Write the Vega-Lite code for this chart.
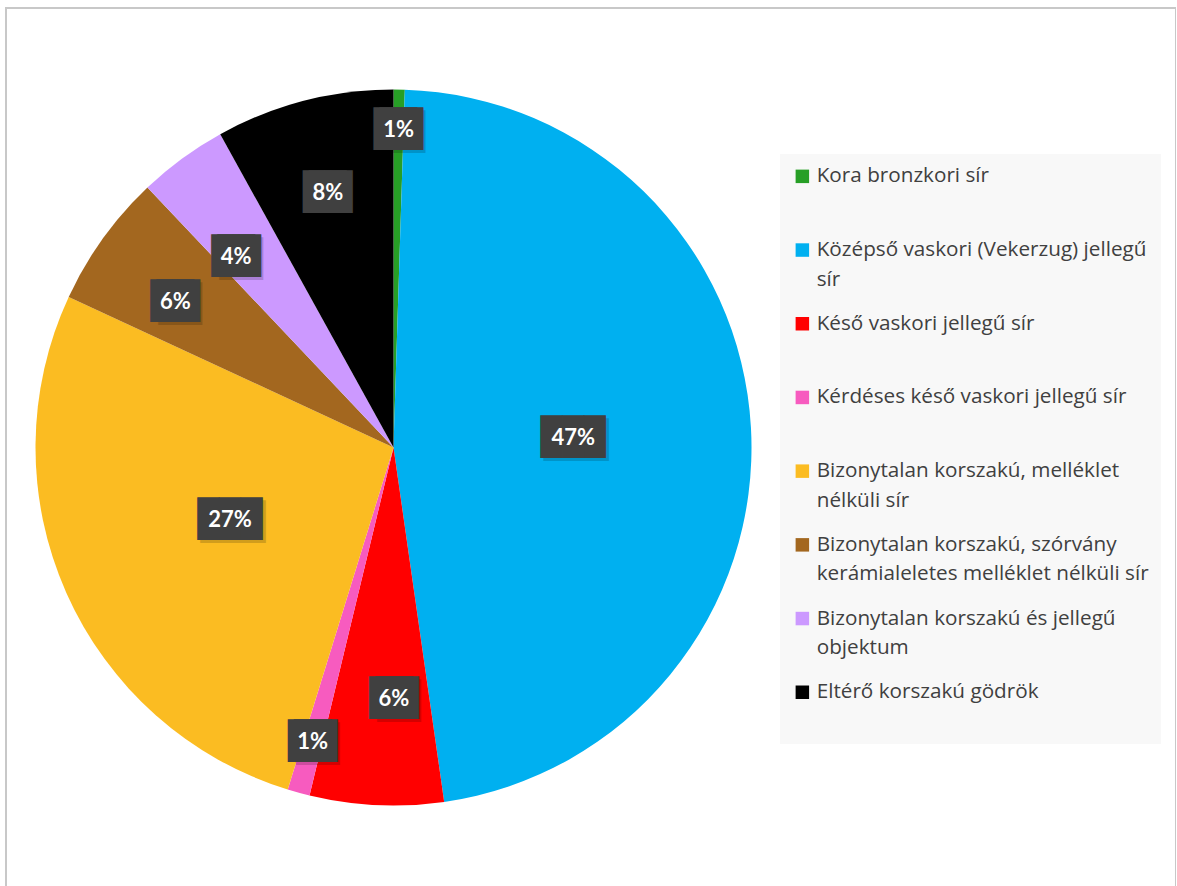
{
  "$schema": "https://vega.github.io/schema/vega-lite/v6.json",
  "width": 1170,
  "height": 900,
  "autosize": {"type": "none"},
  "padding": {"left": 6, "top": 8, "right": 0, "bottom": 0},
  "background": "white",
  "config": {
    "view": {"stroke": null},
    "style": {"guide-label": {"lineHeight": 29.5}}
  },
  "datasets": {
    "adatok": [
      {"kategoria": "Kora bronzkori sír", "db": 1, "szazalek": "1%", "sorrend": 1},
      {"kategoria": "Középső vaskori (Vekerzug) jellegű sír", "db": 94, "szazalek": "47%", "sorrend": 2},
      {"kategoria": "Késő vaskori jellegű sír", "db": 12, "szazalek": "6%", "sorrend": 3},
      {"kategoria": "Kérdéses késő vaskori jellegű sír", "db": 2, "szazalek": "1%", "sorrend": 4},
      {"kategoria": "Bizonytalan korszakú, melléklet nélküli sír", "db": 54, "szazalek": "27%", "sorrend": 5},
      {"kategoria": "Bizonytalan korszakú, szórvány kerámialeletes melléklet nélküli sír", "db": 12, "szazalek": "6%", "sorrend": 6},
      {"kategoria": "Bizonytalan korszakú és jellegű objektum", "db": 8, "szazalek": "4%", "sorrend": 7},
      {"kategoria": "Eltérő korszakú gödrök", "db": 16, "szazalek": "8%", "sorrend": 8}
    ],
    "keret": [{"nev": "keret"}]
  },
  "layer": [
    {
      "data": {"name": "keret"},
      "mark": {"type": "rect", "x": 0, "y": 0, "x2": "width", "y2": "height", "fill": "white", "fillOpacity": 0, "stroke": "#c8c8c8", "strokeWidth": 2},
      "encoding": {}
    },
    {
      "data": {"name": "adatok"},
      "mark": {"type": "arc", "outerRadius": 358, "x": 387.5, "y": 439.5},
      "encoding": {
        "theta": {"field": "db", "type": "quantitative", "stack": true},
        "order": {"field": "sorrend", "type": "quantitative"},
        "color": {
          "field": "kategoria",
          "type": "nominal",
          "sort": null,
          "scale": {
            "domain": [
              "Kora bronzkori sír",
              "Középső vaskori (Vekerzug) jellegű sír",
              "Késő vaskori jellegű sír",
              "Kérdéses késő vaskori jellegű sír",
              "Bizonytalan korszakú, melléklet nélküli sír",
              "Bizonytalan korszakú, szórvány kerámialeletes melléklet nélküli sír",
              "Bizonytalan korszakú és jellegű objektum",
              "Eltérő korszakú gödrök"
            ],
            "range": ["#279f26", "#00b0f0", "#ff0000", "#f75bbf", "#fbbc22", "#a3671f", "#cc99ff", "#000000"]
          },
          "legend": {
            "orient": "none",
            "legendX": 774,
            "legendY": 146,
            "title": null,
            "fillColor": "#f8f8f8",
            "padding": 12,
            "labelFont": "Open Sans",
            "labelFontSize": 20.7,
            "labelColor": "#404040",
            "labelLimit": 500,
            "labelOffset": 4,
            "symbolType": "square",
            "symbolSize": 182,
            "symbolStrokeWidth": 0,
            "symbolOpacity": 1,
            "gridAlign": "all",
            "rowPadding": 22.7,
            "labelExpr": "datum.label == 'Középső vaskori (Vekerzug) jellegű sír' ? ['Középső vaskori (Vekerzug) jellegű', 'sír'] : datum.label == 'Bizonytalan korszakú, melléklet nélküli sír' ? ['Bizonytalan korszakú, melléklet', 'nélküli sír'] : datum.label == 'Bizonytalan korszakú, szórvány kerámialeletes melléklet nélküli sír' ? ['Bizonytalan korszakú, szórvány', 'kerámialeletes melléklet nélküli sír'] : datum.label == 'Bizonytalan korszakú és jellegű objektum' ? ['Bizonytalan korszakú és jellegű', 'objektum'] : datum.label == 'Eltérő korszakú gödrök' ? ['Eltérő korszakú gödrök', ' '] : datum.label"
          }
        }
      }
    },
    {
      "data": {"name": "adatok"},
      "mark": {
        "type": "text",
        "x": 387.5,
        "y": 439.5,
        "font": "DejaVu Sans Mono",
        "fontSize": 36,
        "color": "#000000",
        "opacity": 0.16,
        "baseline": "middle",
        "align": "center",
        "dy": 3,
        "dx": {"expr": "length(datum.szazalek) > 2 ? 3 : 5"},
        "radius": {"expr": "datum.sorrend == 1 ? 318 : datum.sorrend == 2 ? 180 : datum.sorrend == 3 ? 252 : datum.sorrend == 4 ? 305 : datum.sorrend == 5 ? 179 : datum.sorrend == 6 ? 262 : datum.sorrend == 7 ? 247 : 263"},
        "thetaOffset": {"expr": "datum.sorrend == 3 ? -0.049 : datum.sorrend == 6 ? -0.037 : datum.sorrend == 7 ? -0.059 : 0"}
      },
      "encoding": {
        "theta": {"field": "db", "type": "quantitative", "stack": true},
        "order": {"field": "sorrend", "type": "quantitative"},
        "text": {"condition": {"test": "length(datum.szazalek) > 2", "value": "███"}, "value": "██"}
      }
    },
    {
      "data": {"name": "adatok"},
      "mark": {
        "type": "text",
        "x": 387.5,
        "y": 439.5,
        "font": "DejaVu Sans Mono",
        "fontSize": 36,
        "color": "#404040",
        "baseline": "middle",
        "align": "center",
        "dx": {"expr": "length(datum.szazalek) > 2 ? 0 : -3"},
        "radius": {"expr": "datum.sorrend == 1 ? 318 : datum.sorrend == 2 ? 180 : datum.sorrend == 3 ? 252 : datum.sorrend == 4 ? 305 : datum.sorrend == 5 ? 179 : datum.sorrend == 6 ? 262 : datum.sorrend == 7 ? 247 : 263"},
        "thetaOffset": {"expr": "datum.sorrend == 3 ? -0.049 : datum.sorrend == 6 ? -0.037 : datum.sorrend == 7 ? -0.059 : 0"}
      },
      "encoding": {
        "theta": {"field": "db", "type": "quantitative", "stack": true},
        "order": {"field": "sorrend", "type": "quantitative"},
        "text": {"condition": {"test": "length(datum.szazalek) > 2", "value": "███"}, "value": "██"}
      }
    },
    {
      "data": {"name": "adatok"},
      "mark": {
        "type": "text",
        "x": 387.5,
        "y": 439.5,
        "font": "DejaVu Sans Mono",
        "fontSize": 36,
        "color": "#404040",
        "baseline": "middle",
        "align": "center",
        "dx": 3,
        "radius": {"expr": "datum.sorrend == 1 ? 318 : datum.sorrend == 2 ? 180 : datum.sorrend == 3 ? 252 : datum.sorrend == 4 ? 305 : datum.sorrend == 5 ? 179 : datum.sorrend == 6 ? 262 : datum.sorrend == 7 ? 247 : 263"},
        "thetaOffset": {"expr": "datum.sorrend == 3 ? -0.049 : datum.sorrend == 6 ? -0.037 : datum.sorrend == 7 ? -0.059 : 0"}
      },
      "encoding": {
        "theta": {"field": "db", "type": "quantitative", "stack": true},
        "order": {"field": "sorrend", "type": "quantitative"},
        "text": {"condition": {"test": "length(datum.szazalek) > 2", "value": ""}, "value": "██"}
      }
    },
    {
      "data": {"name": "adatok"},
      "mark": {
        "type": "text",
        "x": 387.5,
        "y": 439.5,
        "font": "Lato",
        "fontWeight": "bold",
        "fontSize": 22,
        "color": "white",
        "baseline": "middle",
        "align": "center",
        "radius": {"expr": "datum.sorrend == 1 ? 318 : datum.sorrend == 2 ? 180 : datum.sorrend == 3 ? 252 : datum.sorrend == 4 ? 305 : datum.sorrend == 5 ? 179 : datum.sorrend == 6 ? 262 : datum.sorrend == 7 ? 247 : 263"},
        "thetaOffset": {"expr": "datum.sorrend == 3 ? -0.049 : datum.sorrend == 6 ? -0.037 : datum.sorrend == 7 ? -0.059 : 0"}
      },
      "encoding": {
        "theta": {"field": "db", "type": "quantitative", "stack": true},
        "order": {"field": "sorrend", "type": "quantitative"},
        "text": {"field": "szazalek", "type": "nominal"}
      }
    }
  ]
}
